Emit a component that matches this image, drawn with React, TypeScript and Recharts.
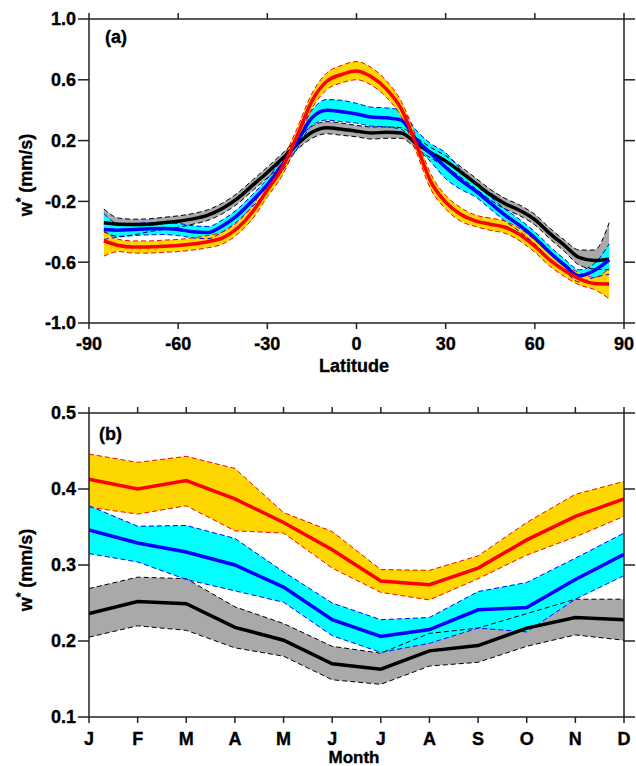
import { Area, ComposedChart, Line, XAxis, YAxis } from "recharts";

// ---- panel (a): zonal mean by latitude ----
const LATS = [-85, -80, -75, -70, -65, -60, -55, -50, -45, -40, -35, -30, -25, -20, -15, -10, -5, 0, 5, 10, 15, 20, 25, 30, 35, 40, 45, 50, 55, 60, 65, 70, 75, 80, 85];

const BLACK_A = [-0.34, -0.35, -0.352, -0.35, -0.34, -0.33, -0.315, -0.29, -0.245, -0.18, -0.095, -0.01, 0.08, 0.175, 0.255, 0.285, 0.275, 0.262, 0.25, 0.255, 0.25, 0.185, 0.12, 0.065, -0.005, -0.08, -0.155, -0.215, -0.26, -0.32, -0.41, -0.49, -0.57, -0.588, -0.58];
const BLACK_A_HI = [-0.25, -0.31, -0.317, -0.315, -0.305, -0.295, -0.28, -0.255, -0.21, -0.145, -0.06, 0.025, 0.115, 0.21, 0.295, 0.325, 0.315, 0.3, 0.29, 0.29, 0.285, 0.22, 0.155, 0.1, 0.03, -0.045, -0.12, -0.18, -0.225, -0.285, -0.375, -0.455, -0.52, -0.52, -0.34];
const BLACK_A_LO = [-0.4, -0.43, -0.42, -0.4, -0.385, -0.37, -0.35, -0.325, -0.28, -0.215, -0.13, -0.045, 0.045, 0.14, 0.215, 0.245, 0.235, 0.225, 0.21, 0.215, 0.215, 0.15, 0.085, 0.03, -0.04, -0.115, -0.19, -0.25, -0.295, -0.355, -0.445, -0.53, -0.62, -0.645, -0.65];

const BLUE_A = [-0.385, -0.39, -0.385, -0.38, -0.378, -0.385, -0.4, -0.405, -0.36, -0.29, -0.195, -0.09, 0.04, 0.19, 0.35, 0.4, 0.39, 0.375, 0.355, 0.35, 0.335, 0.21, 0.115, 0.025, -0.06, -0.13, -0.21, -0.29, -0.36, -0.44, -0.535, -0.62, -0.69, -0.655, -0.585];
const BLUE_A_HI = [-0.28, -0.345, -0.345, -0.34, -0.34, -0.345, -0.36, -0.365, -0.32, -0.25, -0.155, -0.05, 0.08, 0.235, 0.4, 0.47, 0.465, 0.445, 0.42, 0.415, 0.4, 0.27, 0.18, 0.12, 0.01, -0.09, -0.17, -0.25, -0.32, -0.4, -0.495, -0.58, -0.65, -0.61, -0.48];
const BLUE_A_LO = [-0.45, -0.435, -0.425, -0.42, -0.418, -0.425, -0.44, -0.445, -0.4, -0.33, -0.235, -0.13, 0.0, 0.145, 0.3, 0.335, 0.325, 0.315, 0.295, 0.29, 0.275, 0.16, 0.06, -0.05, -0.12, -0.17, -0.25, -0.33, -0.4, -0.48, -0.575, -0.66, -0.73, -0.7, -0.68];

const RED_A = [-0.46, -0.49, -0.5, -0.5, -0.495, -0.49, -0.48, -0.465, -0.44, -0.375, -0.27, -0.125, 0.02, 0.23, 0.46, 0.59, 0.635, 0.658, 0.62, 0.54, 0.41, 0.18, -0.07, -0.205, -0.285, -0.328, -0.35, -0.37, -0.42, -0.495, -0.585, -0.655, -0.71, -0.74, -0.743];
const RED_A_HI = [-0.39, -0.45, -0.46, -0.46, -0.455, -0.45, -0.44, -0.425, -0.4, -0.335, -0.225, -0.08, 0.07, 0.28, 0.51, 0.645, 0.695, 0.72, 0.68, 0.595, 0.46, 0.23, -0.02, -0.16, -0.24, -0.29, -0.31, -0.33, -0.38, -0.455, -0.545, -0.615, -0.67, -0.7, -0.64];
const RED_A_LO = [-0.56, -0.53, -0.54, -0.54, -0.535, -0.53, -0.52, -0.505, -0.48, -0.415, -0.315, -0.17, -0.03, 0.18, 0.41, 0.535, 0.58, 0.6, 0.565, 0.485, 0.36, 0.13, -0.12, -0.25, -0.33, -0.365, -0.39, -0.41, -0.46, -0.535, -0.625, -0.695, -0.75, -0.78, -0.84];

const LAT_TICKS = [-90, -60, -30, 0, 30, 60, 90];
const W_TICKS_A = [-1.0, -0.6, -0.2, 0.2, 0.6, 1.0];

// ---- panel (b): monthly ----
const MONTHS = ["J", "F", "M", "A", "M", "J", "J", "A", "S", "O", "N", "D"];

const RED_B = [0.413, 0.4, 0.411, 0.387, 0.356, 0.32, 0.279, 0.274, 0.296, 0.333, 0.364, 0.387];
const RED_B_HI = [0.446, 0.435, 0.443, 0.427, 0.369, 0.344, 0.294, 0.293, 0.312, 0.356, 0.393, 0.41];
const RED_B_LO = [0.376, 0.367, 0.378, 0.345, 0.342, 0.296, 0.264, 0.254, 0.282, 0.313, 0.337, 0.364];

const BLUE_B = [0.346, 0.329, 0.317, 0.3, 0.271, 0.228, 0.206, 0.215, 0.241, 0.244, 0.281, 0.314];
const BLUE_B_HI = [0.378, 0.351, 0.352, 0.335, 0.291, 0.25, 0.228, 0.231, 0.265, 0.277, 0.309, 0.342];
const BLUE_B_LO = [0.315, 0.304, 0.281, 0.266, 0.251, 0.207, 0.185, 0.197, 0.217, 0.212, 0.255, 0.286];

const BLACK_B = [0.236, 0.252, 0.249, 0.218, 0.201, 0.17, 0.163, 0.187, 0.194, 0.217, 0.231, 0.228];
const BLACK_B_HI = [0.269, 0.284, 0.282, 0.245, 0.223, 0.193, 0.184, 0.21, 0.217, 0.236, 0.255, 0.255];
const BLACK_B_LO = [0.205, 0.22, 0.214, 0.191, 0.18, 0.149, 0.143, 0.167, 0.172, 0.193, 0.208, 0.201];

const W_TICKS_B = [0.1, 0.2, 0.3, 0.4, 0.5];

const FONT = "'Liberation Sans', Arial, Helvetica, sans-serif";
const AXIS = "#222";
const TICK = { fill: "#000", stroke: "#000", strokeWidth: 0.35, fontSize: 18, fontWeight: 700, fontFamily: FONT };
const TICK_LINE = { stroke: "#222", strokeWidth: 1.5 };
const AXIS_LINE = { stroke: "#222", strokeWidth: 1.5 };

function rowsFrom(
  xs: number[],
  black: number[], blackHi: number[], blackLo: number[],
  blue: number[], blueHi: number[], blueLo: number[],
  red: number[], redHi: number[], redLo: number[]
) {
  return xs.map((x, i) => ({
    x,
    black: black[i], blackHi: blackHi[i], blackLo: blackLo[i], blackBand: [blackLo[i], blackHi[i]],
    blue: blue[i], blueHi: blueHi[i], blueLo: blueLo[i], blueBand: [blueLo[i], blueHi[i]],
    red: red[i], redHi: redHi[i], redLo: redLo[i], redBand: [redLo[i], redHi[i]],
  }));
}

const latRows = rowsFrom(LATS, BLACK_A, BLACK_A_HI, BLACK_A_LO, BLUE_A, BLUE_A_HI, BLUE_A_LO, RED_A, RED_A_HI, RED_A_LO);
const monthRows = rowsFrom(MONTHS.map((_, i) => i), BLACK_B, BLACK_B_HI, BLACK_B_LO, BLUE_B, BLUE_B_HI, BLUE_B_LO, RED_B, RED_B_HI, RED_B_LO);

type PanelProps = {
  rows: any[];
  height: number;
  margin: { top: number; right: number; left: number; bottom: number };
  topH: number;
  xDomain: [number, number];
  xTicks: number[];
  xFmt: (v: number) => string;
  xTickMargin: number;
  yDomain: [number, number];
  yTicks: number[];
  curve: "monotone" | "linear";
};

const blank = () => "";

function Panel({ rows, height, margin, topH, xDomain, xTicks, xFmt, xTickMargin, yDomain, yTicks, curve }: PanelProps) {
  const dashed = { strokeWidth: 1, strokeDasharray: "5 3", dot: false, activeDot: false, isAnimationActive: false, type: curve };
  const mean = { strokeWidth: 3.5, dot: false, activeDot: false, isAnimationActive: false, type: curve };
  const band = { stroke: "none", fillOpacity: 1, dot: false, activeDot: false, isAnimationActive: false, type: curve };
  return (
    <ComposedChart width={636} height={height} data={rows} margin={margin}>
      <XAxis dataKey="x" type="number" domain={xDomain} ticks={xTicks} interval={0} tickFormatter={xFmt}
        tickSize={6} tickMargin={xTickMargin} height={30} stroke={AXIS} tick={TICK}
        tickLine={TICK_LINE} axisLine={AXIS_LINE} allowDataOverflow />
      <XAxis xAxisId="top" dataKey="x" orientation="top" type="number" domain={xDomain} ticks={xTicks} interval={0}
        tickFormatter={blank} tickSize={6} height={topH} stroke={AXIS}
        tickLine={TICK_LINE} axisLine={AXIS_LINE} allowDataOverflow />
      <YAxis type="number" domain={yDomain} ticks={yTicks} interval={0} tickFormatter={(v: number) => v.toFixed(1)}
        tickSize={11} tickMargin={2} width={70} stroke={AXIS} tick={TICK}
        tickLine={TICK_LINE} axisLine={AXIS_LINE} allowDataOverflow />
      <YAxis yAxisId="right" orientation="right" type="number" domain={yDomain} ticks={yTicks} interval={0}
        tickFormatter={blank} tickSize={11} width={12} stroke={AXIS}
        tickLine={TICK_LINE} axisLine={AXIS_LINE} allowDataOverflow />

      <Area dataKey="blackBand" fill="#A9A9A9" {...band} />
      <Area dataKey="blueBand" fill="#00FFFF" {...band} />
      <Area dataKey="redBand" fill="#FFD700" {...band} />

      <Line dataKey="blackHi" stroke="#000" {...dashed} />
      <Line dataKey="blackLo" stroke="#000" {...dashed} />
      <Line dataKey="blueHi" stroke="#0000FF" {...dashed} />
      <Line dataKey="blueLo" stroke="#0000FF" {...dashed} />
      <Line dataKey="redHi" stroke="#FF0000" {...dashed} />
      <Line dataKey="redLo" stroke="#FF0000" {...dashed} />

      <Line dataKey="black" stroke="#000" {...mean} />
      <Line dataKey="blue" stroke="#0000FF" {...mean} />
      <Line dataKey="red" stroke="#FF0000" {...mean} />

      {/* invisible series so the mirrored top/right axes get drawn */}
      <Line xAxisId="top" yAxisId="right" dataKey="black" stroke="none" {...mean} />
    </ComposedChart>
  );
}

function YTitle({ x, y }: { x: number; y: number }) {
  return (
    <text transform={`translate(${x},${y}) rotate(-90)`} textAnchor="middle" fontSize={18} fontWeight={700}
      fontFamily={FONT} stroke="#000" strokeWidth={0.35}>
      <tspan>w</tspan>
      <tspan dy={-7} fontSize={12}>*</tspan>
      <tspan dy={7}> (mm/s)</tspan>
    </text>
  );
}

export default function App() {
  return (
    <div style={{ position: "absolute", left: 0, top: 0, width: 636, height: 766, background: "#fff", overflow: "hidden" }}>
      <div style={{ position: "absolute", left: 0, top: 0 }}>
        <Panel rows={latRows} height={380} margin={{ top: 0, right: 0, left: 19, bottom: 27 }} topH={19}
          xDomain={[-90, 90]} xTicks={LAT_TICKS} xFmt={(v) => String(v)} xTickMargin={8}
          yDomain={[-1, 1]} yTicks={W_TICKS_A} curve="monotone" />
      </div>
      <div style={{ position: "absolute", left: 0, top: 380 }}>
        <Panel rows={monthRows} height={386} margin={{ top: 13, right: 0, left: 19, bottom: 19 }} topH={20}
          xDomain={[0, 11]} xTicks={MONTHS.map((_, i) => i)} xFmt={(v) => MONTHS[v]} xTickMargin={9}
          yDomain={[0.1, 0.5]} yTicks={W_TICKS_B} curve="linear" />
      </div>
      <svg width={636} height={766} style={{ position: "absolute", left: 0, top: 0, pointerEvents: "none" }}>
        <g fontFamily={FONT} fontWeight={700} fontSize={18} fill="#000" stroke="#000" strokeWidth={0.35}>
          <text x={105} y={43}>(a)</text>
          <text x={99} y={440}>(b)</text>
          <text x={354} y={372} textAnchor="middle">Latitude</text>
          <text x={354} y={763} textAnchor="middle" fontSize={17}>Month</text>
        </g>
        <YTitle x={32} y={175} />
        <YTitle x={32} y={570} />
      </svg>
    </div>
  );
}
